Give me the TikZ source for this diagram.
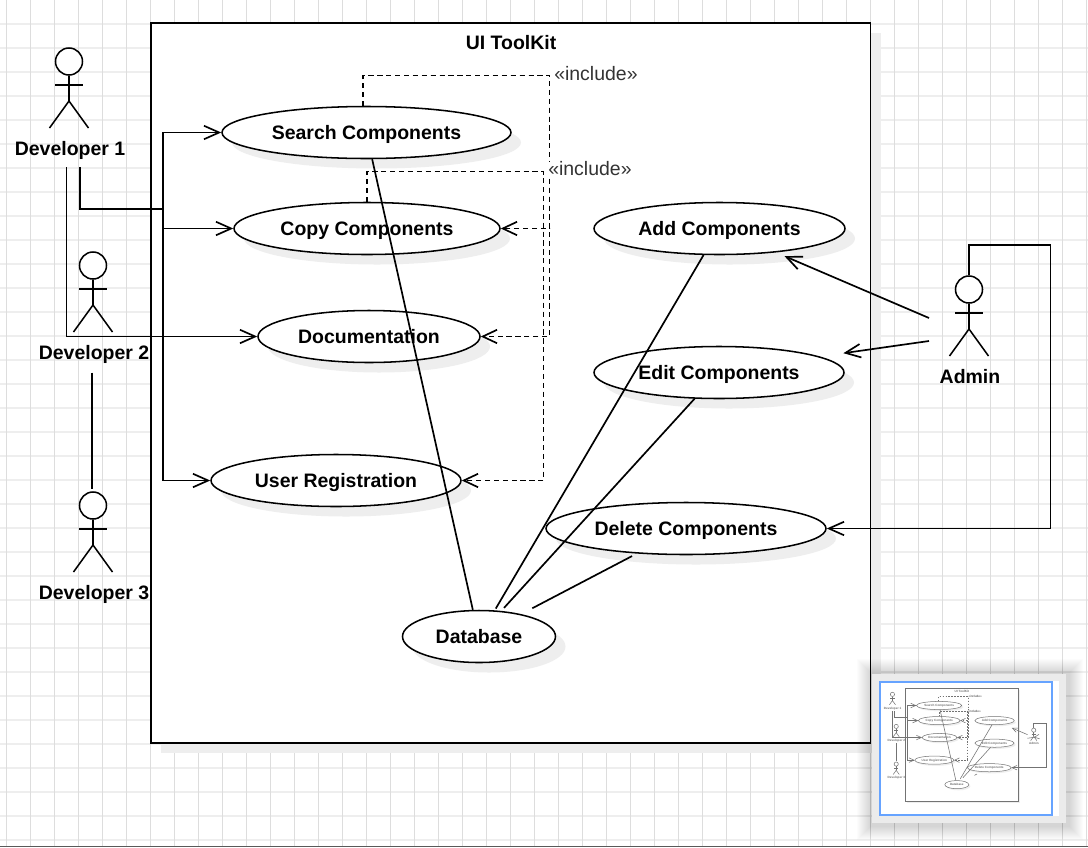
\documentclass[tikz,border=0pt]{standalone}
\usepackage{fontspec}
\setmainfont{Liberation Sans}
\usetikzlibrary{arrows.meta,shapes.geometric,shadows}
\definecolor{gridVert}{HTML}{DDDDDD}
\definecolor{gridHorz}{HTML}{EEEEEE}
\definecolor{shadeGray}{HTML}{EEEEEE}
\definecolor{panelGray}{HTML}{EBEBEB}
\definecolor{viewBlue}{HTML}{66A3FF}
\definecolor{noteGray}{HTML}{333333}
\newcommand{\px}{0.75pt}
\newcommand{\lw}{1.15pt}
\newcommand{\shd}{7.5pt}
\tikzset{
  ui/.style={font=\bfseries\fontsize{14.6}{17}\selectfont, text height=10.8pt, text depth=0pt},
  usecase/.style={ellipse, draw, line width=\lw, fill=white, inner sep=0pt, ui,
    minimum width=#1*\px, minimum height=52*\px,
    drop shadow={shadow xshift=\shd, shadow yshift=-\shd, fill=shadeGray, opacity=1}},
  frame/.style={draw, line width=0.8*\lw, fill=white, inner sep=0pt,
    minimum width=719.5*\px, minimum height=720*\px,
    drop shadow={shadow xshift=\shd, shadow yshift=-\shd, fill=shadeGray, opacity=1}},
  stickman/.style={line width=\lw},
  assoc/.style={line width=1.1*\lw},
  trunkline/.style={line width=1.4*\lw},
  arrowed/.style={line width=1.1*\lw, -{Straight Barb[length=0pt 9, width=0pt 8]}},
  incl/.style={line width=1.1*\lw, dash pattern=on 3.4*\lw off 2.4*\lw, -{Straight Barb[length=0pt 8.5, width=0pt 8]}},
  note/.style={fill=white, text=noteGray, inner sep=0pt, font=\fontsize{14.6}{17}\selectfont},
  actor/.pic={
    \node[circle, draw, stickman, fill=white, inner sep=0pt, minimum size=27*\px] (-head) at (0,13.5) {};
    \draw[stickman] (-head.south) -- (0,53);
    \draw[stickman] (-14,37) -- (14,37);
    \draw[stickman] (-19.5,80) -- (0,53) -- (19.5,80);
    \node[ui, inner sep=0pt] (-label) at (1,100) {#1};
  }
}
% everything inside the frame and the actors, drawn twice (page and thumbnail)
\newcommand{\umlbody}{
  \node[frame] (toolkit) at (510.75,383) {};
  \node[ui] (title) at (511,42) {UI ToolKit};
  % use cases
  \node[usecase=289] (search) at (366.5,132.5) {Search Components};
  \node[usecase=266] (copy) at (367,228.5) {Copy Components};
  \node[usecase=222] (doc) at (369,336.5) {Documentation};
  \node[usecase=250] (reg) at (336,480.5) {User Registration};
  \node[usecase=251] (add) at (719.5,228.5) {Add Components};
  \node[usecase=250] (edit) at (719,372.5) {Edit Components};
  \node[usecase=280] (delete) at (686,528.5) {Delete Components};
  \node[usecase=153] (db) at (479,636.5) {Database};
  % actors
  \pic (dev1) at (69,48) {actor=Developer 1};
  \pic (dev2) at (93,252) {actor=Developer 2};
  \pic (dev3) at (93,492) {actor=Developer 3};
  \pic (admin) at (969,276) {actor=Admin};
  % free ends
  \coordinate (dev1a) at (66.5,167);
  \coordinate (dev1b) at (80,167);
  \coordinate (trunk) at (163,209);
  \coordinate (dev2out) at (92,372.5);
  \coordinate (dev3in) at (92,489);
  \coordinate (adminA) at (929,318);
  \coordinate (adminB) at (929,341);
  \coordinate (adminUp) at (1050.5,245);
  \coordinate (inclA) at (549.6,75.4);
  \coordinate (inclB) at (543.5,171.5);
  % include
  \draw[incl] (search.97) |- (inclA) |- (copy.east);
  \draw[incl] (search.97) |- (inclA) |- (doc.east);
  \draw[incl] (copy.north) |- (inclB) |- (reg.east);
  \node[note, anchor=west] (inclNoteA) at (554,73.5) {«include»};
  \node[note, anchor=west] (inclNoteB) at (548,169) {«include»};
  % developers
  \draw[trunkline] (dev1b) |- (trunk);
  \draw[arrowed] (trunk) |- (search.west);
  \draw[arrowed] (trunk) |- (copy.west);
  \draw[arrowed] (trunk) |- (reg.west);
  \draw[arrowed] (dev1a) |- (doc.west);
  \draw[assoc] (dev2out) -- (dev3in);
  % admin
  \draw[arrowed, shorten >=7pt] (adminA) -- (add.-23.8);
  \draw[arrowed, shorten >=17.8pt] (adminB) -- (edit.9.3);
  \draw[arrowed] (admin-head.north) |- (adminUp) |- (delete.east);
  % database
  \draw[assoc] (search.-78) -- (db.103);
  \draw[assoc, shorten >=1.5pt] (add.-121) -- (db.59.4);
  \draw[assoc, shorten >=3pt] (edit.-133.4) -- (db.49.6);
  \draw[assoc, shorten <=4pt, shorten >=9.4pt] (delete.-153.4) -- (db.28.1);
}
\begin{document}
\begin{tikzpicture}[x=\px, y=-\px]
  \useasboundingbox (0,0) rectangle (1088,847);
  \fill[white] (0,0) rectangle (1088,847);
  % page grid
  \foreach \gy in {23.5,47.5,...,839.5}
    \draw[gridHorz, line width=1.5pt] (0,\gy) -- (1088,\gy);
  \foreach \gx in {6.5,30.5,...,1086.5}
    \draw[gridVert, line width=0.75pt] (\gx,0) -- (\gx,847);
  \draw[black!65, line width=0.75pt] (0,846.5) -- (1088,846.5);
  \umlbody
  % thumbnail
  \foreach \gs in {1,...,14}
    \fill[black, opacity=0.01] ({871-\gs},{673-\gs}) rectangle ({1069+\gs},{826+\gs});
  \fill[panelGray] (872,674) rectangle (1066,823);
  \fill[white] (879,681) rectangle (1059,816);
  \draw[viewBlue, line width=1.5pt] (880,682) rectangle (1052.3,815);
  \begin{scope}[shift={(881.6,684.7)}, scale=0.157, transform shape, name prefix=mini-, color=black!55]
    \renewcommand{\lw}{0.38pt}
    \renewcommand{\shd}{1.2pt}
    \umlbody
  \end{scope}
\end{tikzpicture}
\end{document}
